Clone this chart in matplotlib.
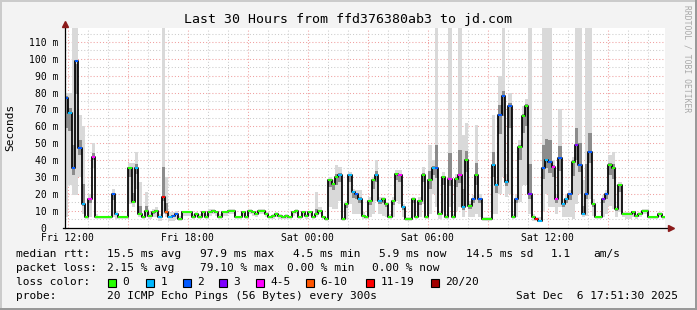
import numpy as np
import matplotlib
matplotlib.use("Agg")
import matplotlib.pyplot as plt
from matplotlib.patches import Rectangle

# SmokePing: ffd376380ab3 -> jd.com, 10 minute steps from Fri 11:51:30 to Sat 17:51:30
median_ms = [
    77, 68, 35, 99, 47, 14, 6, 17, 42, 6,
    6, 6, 6, 6, 20, 8, 6, 6, 6, 35,
    15, 35, 8, 6, 10, 7, 9, 10, 6, 18,
    9, 6, 7, 8, 5, 9, 9, 9, 6, 8,
    6, 9, 6, 9, 10, 9, 6, 9, 9, 10,
    10, 6, 6, 9, 6, 10, 9, 8, 10, 10,
    8, 6, 7, 8, 7, 6, 7, 6, 9, 10,
    6, 9, 7, 9, 6, 8, 10, 6, 5, 28,
    26, 30, 31, 5, 14, 31, 21, 20, 17, 7,
    6, 16, 28, 31, 16, 17, 14, 6, 16, 32,
    31, 12, 5, 5, 17, 6, 16, 31, 6, 28,
    35, 35, 8, 30, 6, 29, 6, 29, 31, 12,
    40, 13, 17, 31, 17, 5, 5, 5, 37, 25,
    67, 78, 27, 72, 6, 17, 48, 66, 72, 20,
    6, 5, 4, 35, 40, 39, 36, 17, 41, 14,
    17, 20, 39, 49, 37, 8, 20, 45, 14, 6,
    6, 17, 20, 37, 35, 11, 25, 8, 8, 8,
    9, 7, 8, 10, 10, 6, 6, 6, 8, 6,
]

# loss class index: 0, 1, 2, 3, 4-5, 6-10, 11-19, 20/20
loss_class = [
    2, 1, 2, 2, 2, 1, 0, 4, 4, 0,
    0, 0, 0, 0, 2, 1, 0, 0, 0, 0,
    0, 1, 0, 0, 0, 0, 0, 0, 1, 6,
    5, 1, 2, 2, 0, 0, 0, 0, 0, 0,
    0, 0, 0, 0, 0, 0, 0, 0, 0, 0,
    0, 0, 0, 0, 0, 0, 0, 0, 0, 0,
    0, 0, 0, 0, 0, 0, 0, 0, 0, 0,
    0, 0, 0, 0, 0, 0, 0, 0, 0, 0,
    0, 0, 1, 0, 0, 1, 1, 2, 1, 0,
    0, 0, 0, 1, 1, 0, 0, 0, 0, 0,
    4, 1, 0, 0, 0, 0, 0, 0, 0, 0,
    1, 2, 0, 0, 0, 4, 0, 0, 4, 1,
    0, 0, 2, 0, 2, 0, 0, 0, 1, 1,
    2, 2, 1, 2, 0, 2, 0, 0, 0, 3,
    0, 6, 1, 2, 1, 2, 4, 4, 2, 1,
    1, 2, 0, 3, 2, 1, 2, 2, 0, 0,
    0, 3, 2, 0, 0, 0, 0, 0, 0, 0,
    0, 0, 0, 0, 0, 0, 0, 0, 0, 0,
]

smoke_lo = [
    6, 25, 19, 19, 30, 8, 5, 6, 35, 5,
    5, 5, 5, 5, 6, 5, 5, 5, 5, 14,
    12, 23, 6, 5, 6, 5, 6, 6, 4, 8,
    6, 4, 4, 5, 4, 7, 7, 7, 5, 6,
    5, 7, 5, 7, 8, 7, 5, 7, 7, 8,
    8, 5, 5, 7, 5, 8, 7, 6, 8, 8,
    6, 5, 5, 6, 5, 5, 5, 5, 7, 8,
    5, 7, 5, 7, 5, 6, 8, 5, 4, 12,
    11, 11, 16, 4, 5, 14, 8, 8, 8, 5,
    5, 6, 8, 16, 8, 7, 6, 5, 6, 16,
    14, 6, 4, 4, 6, 5, 6, 14, 5, 8,
    20, 12, 5, 10, 5, 12, 5, 10, 12, 6,
    12, 6, 6, 8, 6, 4, 4, 4, 8, 8,
    20, 30, 18, 20, 5, 6, 15, 25, 25, 8,
    4, 4, 3, 10, 20, 12, 12, 8, 12, 6,
    6, 6, 5, 14, 20, 6, 7, 17, 7, 5,
    5, 6, 8, 13, 11, 6, 9, 6, 5, 5,
    6, 5, 6, 8, 8, 5, 5, 5, 6, 5,
]

smoke_hi = [
    80, 80, 125, 125, 67, 60, 7, 20, 50, 8,
    7, 7, 7, 7, 23, 10, 7, 7, 7, 38,
    38, 45, 27, 7, 21, 9, 11, 12, 8, 125,
    30, 9, 9, 10, 7, 10, 10, 10, 8, 9,
    8, 10, 8, 11, 11, 10, 8, 10, 10, 11,
    11, 7, 7, 10, 7, 11, 10, 9, 11, 11,
    9, 7, 8, 9, 8, 7, 8, 7, 10, 11,
    7, 10, 8, 10, 7, 21, 12, 7, 6, 30,
    28, 37, 36, 6, 16, 33, 23, 22, 22, 9,
    7, 18, 30, 40, 18, 18, 15, 8, 18, 34,
    34, 14, 6, 6, 18, 7, 18, 36, 7, 49,
    40, 125, 10, 33, 8, 125, 8, 32, 125, 55,
    62, 16, 19, 61, 20, 6, 6, 6, 67, 28,
    90, 125, 32, 80, 8, 19, 52, 72, 76, 125,
    8, 6, 6, 125, 125, 125, 40, 20, 70, 17,
    19, 22, 42, 125, 125, 28, 125, 125, 17, 7,
    7, 19, 22, 43, 45, 13, 27, 9, 9, 9,
    10, 8, 9, 11, 11, 7, 7, 7, 9, 7,
]

loss_colors = ['#26ff00', '#00b8ff', '#0059ff', '#7e00ff',
               '#ff00ff', '#ff5500', '#ff0000', '#a10000']
loss_labels = ['0', '1', '2', '3', '4-5', '6-10', '11-19', '20/20']

time_labels = ['Fri 12:00', 'Fri 18:00', 'Sat 00:00', 'Sat 06:00', 'Sat 12:00']
first_full_hour = 8.5 / 60.0   # Fri 12:00 is 8.5 min after the start

W, H = 697, 310
MONO = 'DejaVu Sans Mono'

fig = plt.figure(figsize=(W / 100, H / 100), dpi=100)
fig.patch.set_facecolor('#f3f3f3')

# plot area in pixels
px_l, px_r, px_t, px_b = 65, 665, 28, 227.5
ax = fig.add_axes([px_l / W, (H - px_b) / H, (px_r - px_l) / W, (px_b - px_t) / H])
ax.set_facecolor('white')
ymax = 118.3
ax.set_xlim(0, 30)
ax.set_ylim(0, ymax)
for s in ax.spines.values():
    s.set_visible(False)

# grid
for k in range(30):
    t = first_full_hour + k
    major = (12 + k) % 3 == 0
    ax.axvline(t, color='#f0a0a0' if major else '#cccccc', lw=0.75,
               ls=(0, (1, 2)), zorder=1)
for v in range(5, 120, 5):
    major = v % 10 == 0
    ax.axhline(v, color='#f0a0a0' if major else '#cccccc', lw=0.75,
               ls=(0, (1, 2)), zorder=1)

n = len(median_ms)
edges = np.arange(n + 1) / 6.0
med = np.array(median_ms, dtype=float)
lo = np.array(smoke_lo, dtype=float)
hi = np.array(smoke_hi, dtype=float)

# smoke: light for the full ping range, darker close to the median
ax.fill_between(edges, np.append(lo, lo[-1]), np.append(hi, hi[-1]),
                step='post', color='#d9d9d9', lw=0, zorder=2)
near_hi = np.minimum(hi, med + 0.25 * (np.minimum(hi, 90) - med))
near_lo = med - 0.25 * (med - lo)
ax.fill_between(edges, np.append(near_lo, near_lo[-1]), np.append(near_hi, near_hi[-1]),
                step='post', color='#8c8c8c', lw=0, zorder=2)

# median line
ax.step(edges, np.append(med, med[-1]), where='post', color='black',
        lw=1.25, zorder=3)
ax.hlines(med, edges[:-1], edges[1:],
          colors=[loss_colors[c] for c in loss_class], lw=1.5, zorder=4)

# axes with arrows
ax.plot([-0.1, 30.25], [0, 0], color='black', lw=0.9, clip_on=False, zorder=5)
ax.plot([0, 0], [0, ymax + 2.2], color='black', lw=0.9, clip_on=False, zorder=5)
ax.plot([30.3], [0], marker='>', ms=4.5, color='#8b1a1a', clip_on=False, zorder=6)
ax.plot([0], [ymax + 2.6], marker='^', ms=4.5, color='#8b1a1a', clip_on=False, zorder=6)

# ticks and labels
ax.set_xticks([first_full_hour + 6 * k for k in range(5)])
ax.set_xticklabels(time_labels, fontfamily=MONO, fontsize=7)
ax.set_yticks(range(0, 111, 10))
ax.set_yticklabels(['0  '] + [f'{v} m' for v in range(10, 111, 10)],
                   fontfamily=MONO, fontsize=7)
ax.tick_params(axis='both', length=0)
ax.tick_params(axis='y', pad=4.5)
ax.tick_params(axis='x', pad=3.8)

fig.text(10 / W, 1 - 127 / H, 'Seconds', rotation=90, ha='center', va='center',
         fontfamily=MONO, fontsize=8)
fig.text(348 / W, 1 - 19 / H, 'Last 30 Hours from ffd376380ab3 to jd.com',
         ha='center', va='center', fontfamily=MONO, fontsize=9.5)
fig.text(687 / W, 1 - 5 / H, 'RRDTOOL / TOBI OETIKER', rotation=270,
         ha='center', va='top', fontfamily=MONO, fontsize=5.8, color='#a8a8a8')

# legend block
def put(x, y, s):
    fig.text(x / W, 1 - y / H, s, ha='left', va='center', fontfamily=MONO, fontsize=8)

row1 = [(16, 'median rtt:'), (107, '15.5 ms avg'), (200, '97.9 ms max'),
        (293, '4.5 ms min'), (379, '5.9 ms now'), (466, '14.5 ms sd'),
        (551, '1.1'), (593, 'am/s')]
row2 = [(16, 'packet loss:'), (107, '2.15 % avg'), (200, '79.10 % max'),
        (287, '0.00 % min'), (372, '0.00 % now')]
for x, s in row1:
    put(x, 254, s)
for x, s in row2:
    put(x, 268, s)

put(16, 282, 'loss color:')
box_x = [108, 146, 183, 219, 256, 306, 366, 431]
for bx, col, lab in zip(box_x, loss_colors, loss_labels):
    fig.add_artist(Rectangle((bx / W, 1 - 286.5 / H), 8 / W, 8 / H,
                             transform=fig.transFigure, facecolor=col,
                             edgecolor='black', lw=0.8))
    put(bx + 14.5, 282, lab)

put(16, 296, 'probe:')
put(107, 296, '20 ICMP Echo Pings (56 Bytes) every 300s')
put(516, 296, 'Sat Dec  6 17:51:30 2025')

# 3d frame
fig.add_artist(Rectangle((0, 1 - 2 / H), 1, 2 / H, transform=fig.transFigure,
                         facecolor='#cbcbcb', lw=0))
fig.add_artist(Rectangle((0, 0), 2 / W, 1, transform=fig.transFigure,
                         facecolor='#cbcbcb', lw=0))
fig.add_artist(Rectangle((0, 0), 1, 2 / H, transform=fig.transFigure,
                         facecolor='#999999', lw=0))
fig.add_artist(Rectangle((1 - 2 / W, 0), 2 / W, 1, transform=fig.transFigure,
                         facecolor='#999999', lw=0))

fig.savefig('out.png', dpi=100, facecolor=fig.get_facecolor())
